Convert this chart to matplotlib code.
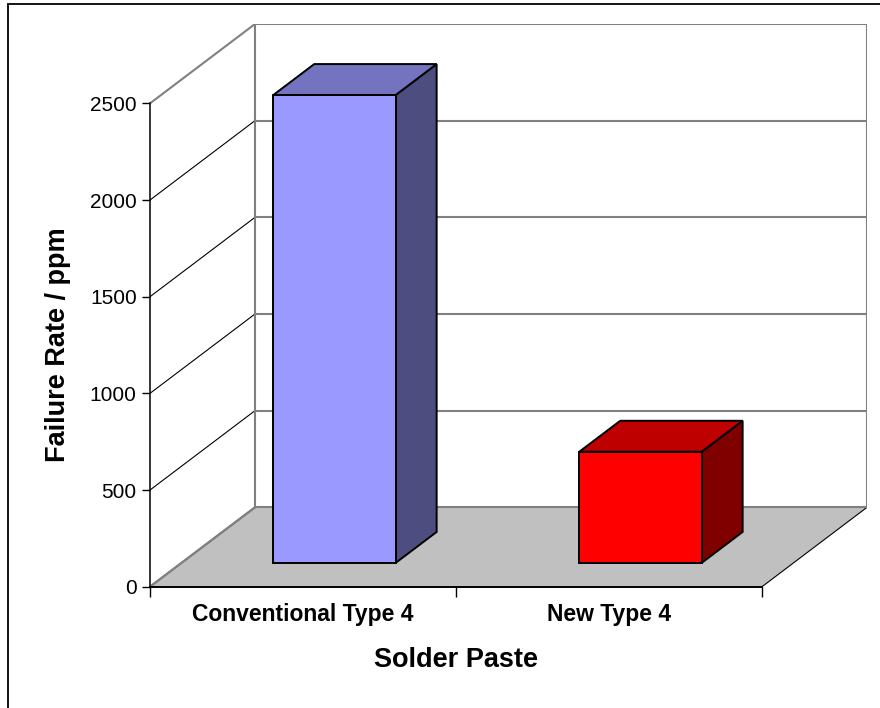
"""
Grafik batang 3D gaya Excel: laju kegagalan per jenis solder paste
"""
import numpy as np
import matplotlib
matplotlib.use('Agg')
import matplotlib.pyplot as plt
from matplotlib.patches import Polygon, Rectangle

plt.rcParams['font.family'] = ['Liberation Sans', 'DejaVu Sans']

# Data
categories = ['Conventional Type 4', 'New Type 4']
failure_ppm = [2420, 575]
y_ticks = [0, 500, 1000, 1500, 2000, 2500]
face_colors = ['#9999FF', '#FF0000']
top_colors = ['#7373BF', '#BF0000']
side_colors = ['#4D4D80', '#800000']

# Geometri 3D (offset kedalaman dalam satuan data)
y_max = 2500
n_cat = len(categories)
DX = 0.3431          # offset kedalaman arah x (satuan kategori)
DY = 410.5           # offset kedalaman arah y (satuan nilai)
half_w = 0.2         # setengah lebar batang
f0, f1 = 0.30, 0.69  # posisi depan/belakang batang pada kedalaman

fig = plt.figure(figsize=(8.8, 7.08), dpi=100)
ax = fig.add_axes([0.17045, 0.17133, 0.81477, 0.79477])
ax.set_xlim(0, n_cat + DX)
ax.set_ylim(0, y_max + DY)
ax.patch.set_visible(False)

grid_gray = '#808080'

# Lantai
floor = Polygon([(0, 0), (n_cat, 0), (n_cat + DX, DY), (DX, DY)],
                closed=True, facecolor='#C0C0C0', edgecolor='none', zorder=1)
ax.add_patch(floor)
ax.plot([n_cat, n_cat + DX], [0, DY], color='black', lw=0.8, zorder=2)
ax.plot([0, DX], [0, DY], color=grid_gray, lw=1.5, zorder=2)

# Dinding belakang dan garis grid
for t in y_ticks:
    ax.plot([DX, n_cat + DX], [t + DY, t + DY], color=grid_gray, lw=1.5, zorder=2)
    edge = t in (0, y_max)
    ax.plot([0, DX], [t, t + DY], color=grid_gray if edge else 'black',
            lw=1.5 if edge else 0.8, zorder=2)
ax.plot([DX, DX], [DY, y_max + DY], color=grid_gray, lw=1.5, zorder=2)
ax.plot([n_cat + DX, n_cat + DX], [DY, y_max + DY], color=grid_gray, lw=1.5, zorder=2)

# Batang 3D
for i, v in enumerate(failure_ppm):
    c = i + 0.5
    x0, x1 = c - half_w, c + half_w
    ax0, ay0 = f0 * DX, f0 * DY
    bx0, by0 = f1 * DX, f1 * DY
    front = [(x0 + ax0, ay0), (x1 + ax0, ay0), (x1 + ax0, v + ay0), (x0 + ax0, v + ay0)]
    top = [(x0 + ax0, v + ay0), (x1 + ax0, v + ay0), (x1 + bx0, v + by0), (x0 + bx0, v + by0)]
    side = [(x1 + ax0, ay0), (x1 + bx0, by0), (x1 + bx0, v + by0), (x1 + ax0, v + ay0)]
    for pts, col in ((side, side_colors[i]), (top, top_colors[i]), (front, face_colors[i])):
        ax.add_patch(Polygon(pts, closed=True, facecolor=col, edgecolor='black',
                             lw=1.4, joinstyle='miter', zorder=3))

# Sumbu
for s in ('top', 'right'):
    ax.spines[s].set_visible(False)
ax.spines['left'].set_bounds(0, y_max)
ax.spines['bottom'].set_bounds(0, n_cat)
ax.spines['left'].set_linewidth(1.1)
ax.spines['bottom'].set_linewidth(1.4)
ax.spines['left'].set_zorder(4)
ax.spines['bottom'].set_zorder(4)

ax.set_yticks(y_ticks)
ax.set_yticklabels([str(t) for t in y_ticks], fontsize=15)
ax.tick_params(axis='y', direction='out', length=6, width=1, pad=3.6)

ax.set_xticks(np.arange(n_cat + 1))
ax.set_xticklabels([])
ax.tick_params(axis='x', which='major', direction='out', length=7, width=1)
ax.set_xticks(np.arange(n_cat) + 0.5, minor=True)
ax.set_xticklabels(categories, minor=True, fontsize=16.5, fontweight='bold')
ax.tick_params(axis='x', which='minor', length=0, pad=12)

ax.set_ylabel('Failure Rate / ppm', fontsize=19.5, fontweight='bold')
ax.set_xlabel('Solder Paste', fontsize=19.5, fontweight='bold')
ax.yaxis.set_label_coords(-0.1285, (y_max / 2) / (y_max + DY))
ax.xaxis.set_label_coords((n_cat / 2) / (n_cat + DX), -0.1300)
ax.yaxis.label.set_va('center')
ax.xaxis.label.set_va('center')

# Bingkai area grafik
frame = Rectangle((7.5 / 880, -0.1), 1.2, 0.99435 + 0.1, transform=fig.transFigure,
                  facecolor='none', edgecolor='black', lw=1.3)
fig.patches.append(frame)

fig.savefig('out.png', dpi=100)
plt.close(fig)
